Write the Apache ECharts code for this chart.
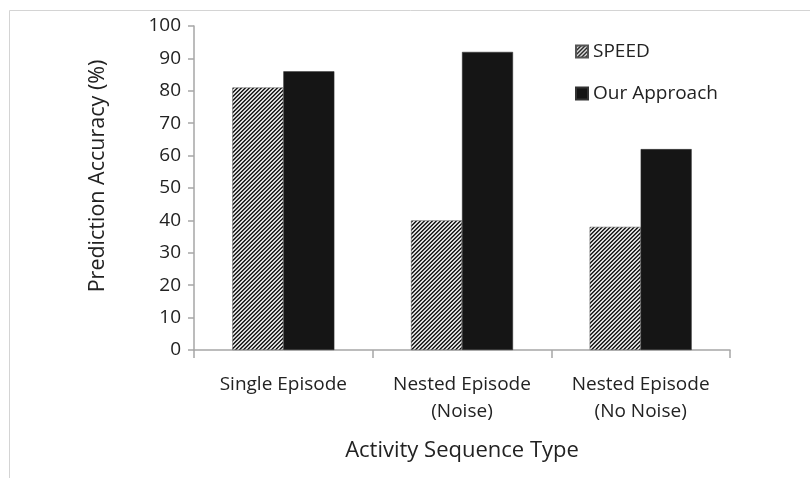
<!DOCTYPE html>
<html><head><meta charset="utf-8">
<script src="https://cdn.jsdelivr.net/npm/echarts@6/dist/echarts.min.js"></script>
<style>html,body{margin:0;padding:0;background:#fff}#c{width:810px;height:478px}</style>
</head><body><div id="c"></div>
<script>
const categories = ['Single Episode', 'Nested Episode\n(Noise)', 'Nested Episode\n(No Noise)'];
const speedValues = [81, 40, 38];
const oursValues = [86, 92, 62];
const seriesNames = ['SPEED', 'Our Approach'];

function hatch() {
  const n = 4;
  const c = document.createElement('canvas');
  c.width = n; c.height = n;
  const g = c.getContext('2d');
  const img = g.createImageData(n, n);
  for (let y = 0; y < n; y++) for (let x = 0; x < n; x++) {
    const m = (x + y) % n;
    const v = m === 0 ? 20 : (m === 1 ? 70 : (m === 2 ? 235 : 200));
    const i = (y * n + x) * 4;
    img.data[i] = v; img.data[i + 1] = v; img.data[i + 2] = v; img.data[i + 3] = 255;
  }
  g.putImageData(img, 0, 0);
  return c;
}
const pat = { image: hatch(), repeat: 'repeat' };
const font = 'Open Sans, Noto Sans, sans-serif';
const chart = echarts.init(document.getElementById('c'), null, { renderer: 'canvas' });
chart.setOption({
  animation: false,
  backgroundColor: '#fff',
  graphic: [{ type: 'rect', shape: { x: 9.5, y: 10.5, width: 830, height: 500 }, style: { fill: 'none', stroke: '#d4d4d4', lineWidth: 1 } }],
  grid: { left: 194, right: 80, top: 26, bottom: 128, containLabel: false },
  legend: {
    orient: 'vertical', left: 570, top: 37, itemGap: 23, itemWidth: 12, itemHeight: 12,
    textStyle: { fontFamily: font, fontSize: 19, color: '#222' },
    data: [{ name: seriesNames[0], icon: 'rect' }, { name: seriesNames[1], icon: 'rect' }]
  },
  xAxis: {
    type: 'category', data: categories,
    name: 'Activity Sequence Type', nameLocation: 'middle', nameGap: 90,
    nameTextStyle: { fontFamily: font, fontSize: 22, color: '#222' },
    axisLine: { lineStyle: { color: '#a6a6a6', width: 1.5 } },
    axisTick: { show: true, length: 8, lineStyle: { color: '#a6a6a6', width: 1.5 } },
    axisLabel: { interval: 0, fontFamily: font, fontSize: 19, color: '#222', margin: 21, lineHeight: 27 }
  },
  yAxis: {
    type: 'value', min: 0, max: 100, interval: 10,
    name: 'Prediction Accuracy (%)', nameLocation: 'middle', nameGap: 85,
    nameTextStyle: { fontFamily: font, fontSize: 21.5, color: '#222', padding: [0, 0, 0, 24] },
    splitLine: { show: false },
    axisLine: { show: true, lineStyle: { color: '#a6a6a6', width: 1.5 } },
    axisTick: { show: true, length: 6, lineStyle: { color: '#a6a6a6', width: 1.5 } },
    axisLabel: { fontFamily: font, fontSize: 19, color: '#222', margin: 13 }
  },
  series: [
    { name: seriesNames[0], type: 'bar', data: speedValues, barWidth: 51, barGap: '0%',
      itemStyle: { color: pat, borderColor: '#555', borderWidth: 0.5 } },
    { name: seriesNames[1], type: 'bar', data: oursValues, barWidth: 51, barGap: '0%',
      itemStyle: { color: '#151515', borderColor: '#333', borderWidth: 0.5 } }
  ]
});
</script></body></html>
